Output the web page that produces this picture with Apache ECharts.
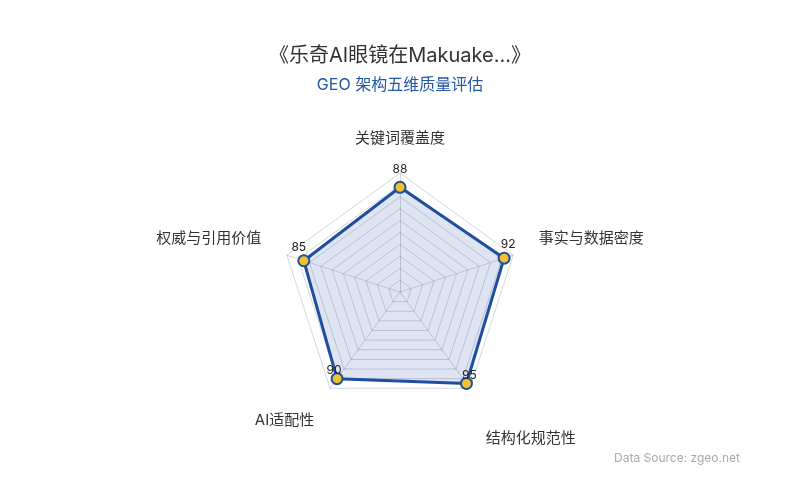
<!DOCTYPE html>
<html>
<head>
<meta charset="utf-8">
<script src="https://cdn.jsdelivr.net/npm/echarts@6/dist/echarts.min.js"></script>
<style>
  html, body { margin: 0; padding: 0; background: #fff; }
  #chart { width: 800px; height: 500px; }
</style>
</head>
<body>
<div id="chart"></div>
<script>
// 维度 (radar 从顶部开始逆时针排列)
var dimensions = ['关键词覆盖度', '权威与引用价值', 'AI适配性', '结构化规范性', '事实与数据密度'];
var scores = [88, 85, 90, 95, 92];
var maxScore = 100;

var font = 'Inter, "Noto Sans CJK SC", sans-serif';

// 维度名称 / 数值标签的微调
var namePad = [[0, 0, 0, 0], [0, 0, 16, 0], [20, 0, 0, 0], [57, 0, 0, 0], [0, 0, 16, 0]];
var labelPad = [[0, 0, 9, 0], [0, 10, 5, 0], [0, 6, 0, 0], [0, 0, 0, 6], [0, 0, 5, 8]];

var nameRich = {}, labelRich = {};
dimensions.forEach(function (d, i) {
    nameRich['n' + i] = {padding: namePad[i], fontSize: 15, color: '#333', fontFamily: font};
    labelRich['v' + i] = {padding: labelPad[i], fontSize: 12, color: '#222', fontFamily: font};
});

var myChart = echarts.init(document.getElementById('chart'));
myChart.setOption({
    backgroundColor: '#fff',
    title: [{
        text: '《乐奇AI眼镜在Makuake...》',
        subtext: 'GEO 架构五维质量评估',
        left: 'center',
        top: 41,
        itemGap: 11,
        textStyle: {fontSize: 20, fontWeight: 'normal', color: '#333', fontFamily: font},
        subtextStyle: {fontSize: 16, color: '#2456a6', fontFamily: font}
    }, {
        text: 'Data Source: zgeo.net',
        right: 55,
        bottom: 31,
        textStyle: {fontSize: 12, fontWeight: 'normal', color: '#aaa', fontFamily: font}
    }],
    radar: {
        center: ['50%', 292],
        radius: 119,
        splitNumber: 10,
        nameGap: 27,
        axisName: {
            color: '#333',
            fontSize: 15,
            fontFamily: font,
            formatter: function (name) {
                return '{n' + dimensions.indexOf(name) + '|' + name + '}';
            },
            rich: nameRich
        },
        indicator: dimensions.map(function (d) {
            return {name: d, max: maxScore};
        }),
        splitLine: {lineStyle: {color: 'rgba(120,130,160,0.33)', width: 1}},
        splitArea: {show: false},
        axisLine: {lineStyle: {color: 'rgba(120,130,160,0.33)'}}
    },
    series: [{
        type: 'radar',
        symbol: 'circle',
        symbolSize: 11,
        data: [{
            value: scores,
            name: 'GEO'
        }],
        lineStyle: {color: '#1f4e9f', width: 3},
        itemStyle: {color: '#f2c22e', borderColor: '#1f4e9f', borderWidth: 2},
        areaStyle: {color: 'rgba(40,80,170,0.22)'},
        label: {
            show: true,
            position: 'top',
            distance: -4,
            color: '#222',
            fontSize: 12,
            fontFamily: font,
            formatter: function (p) {
                var i = scores.indexOf(p.value);
                return '{v' + i + '|' + p.value + '}';
            },
            rich: labelRich
        }
    }]
});
</script>
</body>
</html>
